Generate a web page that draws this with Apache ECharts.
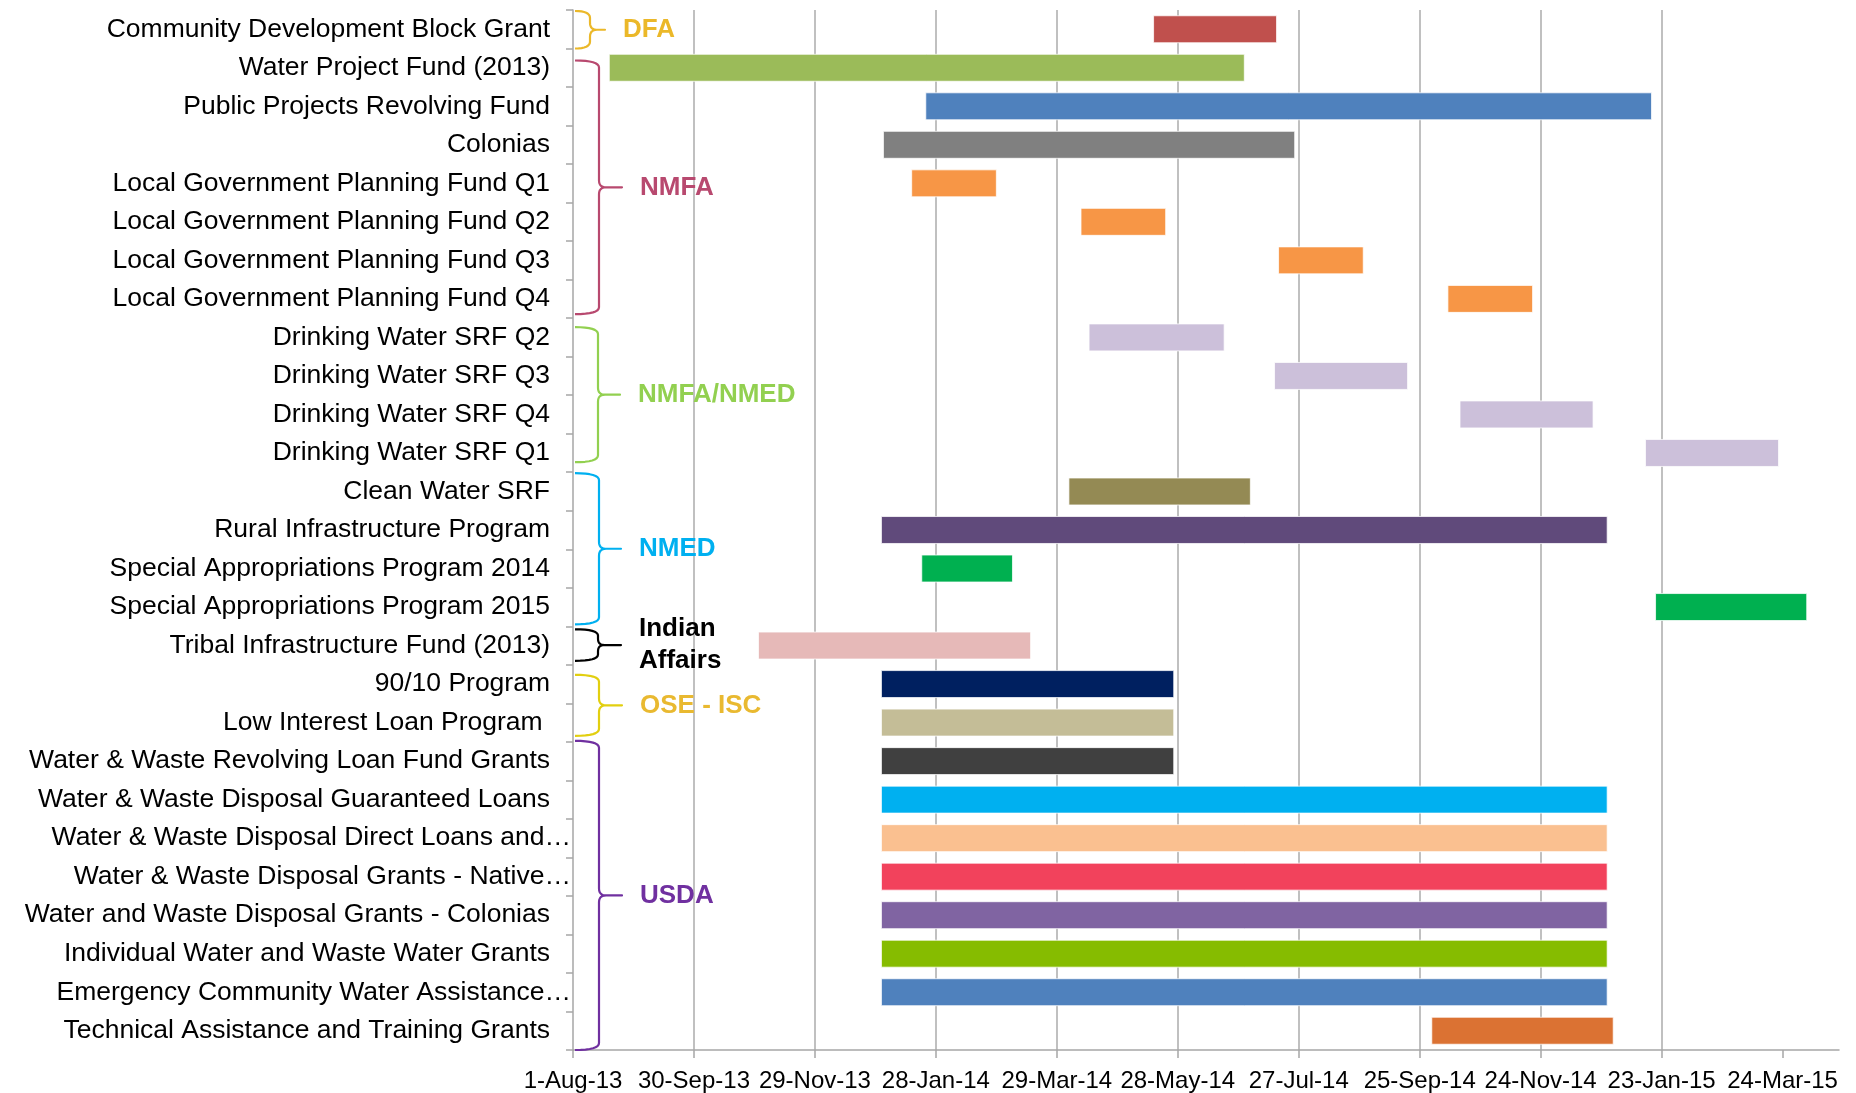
<!DOCTYPE html>
<html>
<head>
<meta charset="utf-8">
<script src="https://cdn.jsdelivr.net/npm/echarts@6/dist/echarts.min.js"></script>
<style>
html,body{margin:0;padding:0;background:#ffffff;}
#chart{width:1856px;height:1093px;}
</style>
</head>
<body>
<div id="chart"></div>
<script>
// ---------------- DATA ----------------
const categories = [
  'Community Development Block Grant',
  'Water Project Fund (2013)',
  'Public Projects Revolving Fund',
  'Colonias',
  'Local Government Planning Fund Q1',
  'Local Government Planning Fund Q2',
  'Local Government Planning Fund Q3',
  'Local Government Planning Fund Q4',
  'Drinking Water SRF Q2',
  'Drinking Water SRF Q3',
  'Drinking Water SRF Q4',
  'Drinking Water SRF Q1',
  'Clean Water SRF',
  'Rural Infrastructure Program',
  'Special Appropriations Program 2014',
  'Special Appropriations Program 2015',
  'Tribal Infrastructure Fund (2013)',
  '90/10 Program',
  'Low Interest Loan Program ',
  'Water & Waste Revolving Loan Fund Grants',
  'Water & Waste Disposal Guaranteed Loans',
  'Water & Waste Disposal Direct Loans and\u2026',
  'Water & Waste Disposal Grants - Native\u2026',
  'Water and Waste Disposal Grants - Colonias',
  'Individual Water and Waste Water Grants',
  'Emergency Community Water Assistance\u2026',
  'Technical Assistance and Training Grants'
];

const startDates = [
  '2014-05-16', '2013-08-19', '2014-01-23', '2014-01-02',
  '2014-01-16', '2014-04-10', '2014-07-17', '2014-10-09',
  '2014-04-14', '2014-07-15', '2014-10-15', '2015-01-15',
  '2014-04-04', '2014-01-01', '2014-01-21', '2015-01-20',
  '2013-11-01', '2014-01-01', '2014-01-01', '2014-01-01',
  '2014-01-01', '2014-01-01', '2014-01-01', '2014-01-01',
  '2014-01-01', '2014-01-01', '2014-10-01'
];

const endDates = [
  '2014-07-16', '2014-06-30', '2015-01-18', '2014-07-25',
  '2014-02-27', '2014-05-22', '2014-08-28', '2014-11-20',
  '2014-06-20', '2014-09-19', '2014-12-20', '2015-03-22',
  '2014-07-03', '2014-12-27', '2014-03-07', '2015-04-05',
  '2014-03-16', '2014-05-26', '2014-05-26', '2014-05-26',
  '2014-12-27', '2014-12-27', '2014-12-27', '2014-12-27',
  '2014-12-27', '2014-12-27', '2014-12-30'
];

const xTickLabels = ['1-Aug-13','30-Sep-13','29-Nov-13','28-Jan-14','29-Mar-14','28-May-14',
  '27-Jul-14','25-Sep-14','24-Nov-14','23-Jan-15','24-Mar-15'];

const groupNames = ['DFA','NMFA','NMFA/NMED','NMED','Indian\nAffairs','OSE - ISC','USDA'];
const groupFirstRow = [0, 1, 8, 12, 16, 17, 19];
const groupLastRow  = [0, 7, 11, 15, 16, 18, 26];

// ---------------- STYLES ----------------
const barColors = [
  '#C0504D', '#9BBB59', '#4F81BD', '#808080',
  '#F79646', '#F79646', '#F79646', '#F79646',
  '#CCC0DA', '#CCC0DA', '#CCC0DA', '#CCC0DA',
  '#948A54', '#604A7B', '#00B050', '#00B050',
  '#E6B9B8', '#002060', '#C4BD97', '#404040',
  '#00B0F0', '#FAC090', '#F2425C', '#8064A2',
  '#86BC00', '#4F81BD', '#DB7233'
];
const braceColors = ['#EBB829', '#B8496F', '#92D050', '#00B0F0', '#000000', '#E2CF10', '#7030A0'];
const groupLabelColors = ['#EBB829', '#B8496F', '#92D050', '#00B0F0', '#000000', '#E9B930', '#7030A0'];
const braceArm = [15, 24, 23, 24, 23, 24, 24];
const braceTip = [15, 23, 22, 22, 23, 23, 23];
const braceInsetTop = [1, 12, 9, 1, 3, 10, -1];
const braceInsetBottom = [0, 4, 10, 2, 4, 6, 0];

const BASE = Date.UTC(2013, 7, 1);
function dayOf(s) {
  const p = s.split('-').map(Number);
  return Math.round((Date.UTC(p[0], p[1] - 1, p[2]) - BASE) / 86400000);
}
const AXIS_MAX = 628;
const tickValues = xTickLabels.map((_, i) => i * 60);

const barData = categories.map((c, i) => [dayOf(startDates[i]), dayOf(endDates[i]), i]);
const braceData = groupNames.map((n, i) => [i, groupFirstRow[i], groupLastRow[i]]);

function quad(p0, p1, p2, n) {
  const pts = [];
  for (let k = 1; k <= n; k++) {
    const t = k / n, u = 1 - t;
    pts.push([u*u*p0[0] + 2*u*t*p1[0] + t*t*p2[0], u*u*p0[1] + 2*u*t*p1[1] + t*t*p2[1]]);
  }
  return pts;
}

const chart = echarts.init(document.getElementById('chart'), null, {renderer: 'canvas'});

const FONT = '"Liberation Sans", Arial, sans-serif';
const YFS = 26.5;

chart.setOption({
  animation: false,
  backgroundColor: '#ffffff',
  grid: {left: 573, right: 17, top: 10, bottom: 43, containLabel: false, outerBoundsMode: 'none'},
  xAxis: {
    type: 'value',
    min: 0,
    max: AXIS_MAX,
    interval: 60,
    axisLine: {show: true, lineStyle: {color: '#A6A6A6', width: 1.5}},
    axisTick: {show: true, length: 8, customValues: tickValues, lineStyle: {color: '#A6A6A6', width: 1.5}},
    axisLabel: {
      customValues: tickValues,
      formatter: v => xTickLabels[Math.round(v / 60)] || '',
      color: '#000000', fontSize: 24, fontFamily: FONT, margin: 19
    },
    splitLine: {show: true, showMinLine: false, showMaxLine: false, lineStyle: {color: '#ABABAB', width: 1.5}}
  },
  yAxis: {
    type: 'category',
    data: categories,
    inverse: true,
    axisLine: {show: true, lineStyle: {color: '#A6A6A6', width: 1.5}},
    axisTick: {show: true, length: 7, lineStyle: {color: '#A6A6A6', width: 1.5}},
    splitLine: {show: false},
    axisLabel: {
      interval: 0,
      margin: 2,
      color: '#000000', fontSize: YFS, fontFamily: FONT,
      formatter: v => (v.endsWith('\u2026') ? '{t|' + v + '}' : '{n|' + v + '}'),
      rich: {
        n: {color: '#000000', fontSize: YFS, fontFamily: FONT, padding: [0, 21, 0, 0]},
        t: {color: '#000000', fontSize: YFS, fontFamily: FONT, padding: [0, 0, 0, 0]}
      }
    }
  },
  series: [
    {
      type: 'custom',
      name: 'bars',
      data: barData,
      encode: {x: [0, 1], y: 2},
      renderItem: function (params, api) {
        const idx = api.value(2);
        const s = api.coord([api.value(0), idx]);
        const e = api.coord([api.value(1), idx]);
        const h = api.size([0, 1])[1] * 0.7;
        return {
          type: 'rect',
          shape: {x: s[0], y: s[1] - h / 2, width: e[0] - s[0], height: h},
          style: {fill: barColors[idx], stroke: 'rgba(255,255,255,0.75)', lineWidth: 1}
        };
      }
    },
    {
      type: 'custom',
      name: 'braces',
      data: braceData,
      encode: {x: 0, y: 1},
      silent: true,
      renderItem: function (params, api) {
        const g = api.value(0);
        const first = api.value(1), last = api.value(2);
        const rowH = api.size([0, 1])[1];
        const top = api.coord([0, first])[1] - rowH / 2 + braceInsetTop[g];
        const bot = api.coord([0, last])[1] + rowH / 2 - braceInsetBottom[g];
        const mid = (top + bot) / 2;
        const x0 = params.coordSys.x + 2;
        const xv = x0 + braceArm[g];
        const xt = xv + braceTip[g];
        const r = Math.min(7, (bot - top) / 5);
        let pts = [[x0, top]];
        pts = pts.concat(quad([x0, top], [xv, top], [xv, top + r], 8));
        pts.push([xv, mid - r]);
        pts = pts.concat(quad([xv, mid - r], [xv, mid], [xv + r, mid], 8));
        pts.push([xt, mid]);
        pts.push([xv + r, mid]);
        pts = pts.concat(quad([xv + r, mid], [xv, mid], [xv, mid + r], 8));
        pts.push([xv, bot - r]);
        pts = pts.concat(quad([xv, bot - r], [xv, bot], [x0, bot], 8));
        return {
          type: 'group',
          children: [
            {
              type: 'polyline',
              shape: {points: pts},
              style: {stroke: braceColors[g], lineWidth: 2.2, fill: null, lineJoin: 'round'}
            },
            {
              type: 'text',
              x: xt + 18,
              y: mid,
              style: {
                text: groupNames[g],
                fill: groupLabelColors[g],
                font: 'bold 26px ' + FONT,
                align: 'left',
                verticalAlign: 'middle',
                lineHeight: 32
              }
            }
          ]
        };
      }
    }
  ]
});
</script>
</body>
</html>
